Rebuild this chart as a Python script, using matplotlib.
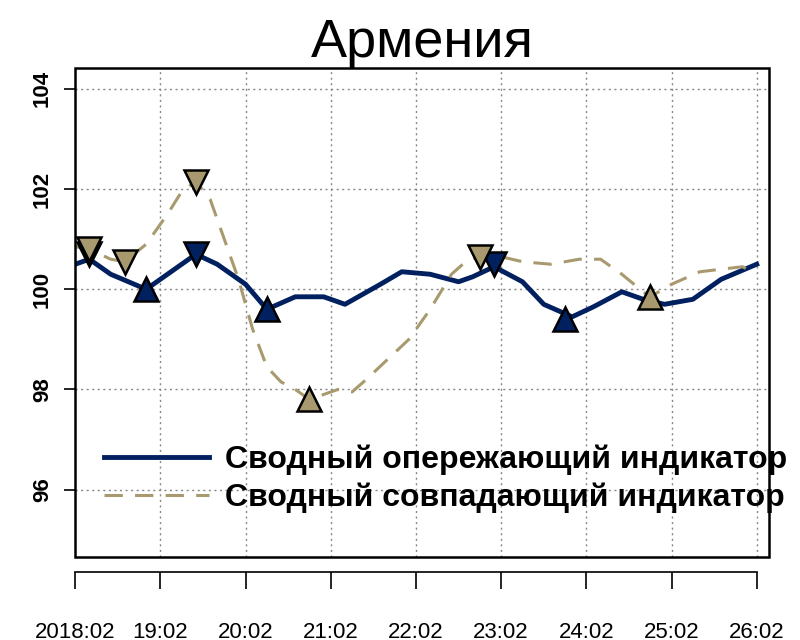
import matplotlib.pyplot as plt
from matplotlib.patches import Rectangle

# months since 2018:02
lead_m = [0, 2, 5, 10, 13, 17, 20, 24, 27, 31, 35, 38, 43, 46, 50, 54, 56, 59, 63, 66, 70, 73, 77, 80, 83, 87, 91, 96]
lead_v = [100.5, 100.6, 100.3, 100.0, 100.3, 100.7, 100.5, 100.1, 99.6, 99.85, 99.85, 99.7, 100.1, 100.35,
          100.3, 100.15, 100.25, 100.45, 100.15, 99.7, 99.45, 99.65, 99.95, 99.8, 99.7, 99.8, 100.2, 100.5]
lead_up_m = [10, 27, 69]
lead_up_v = [100.0, 99.6, 99.4]
lead_dn_m = [2, 17, 59]
lead_dn_v = [100.7, 100.7, 100.5]

coin_m = [0, 2, 5, 7, 10, 13, 15, 17, 19, 21, 23, 25, 27, 29, 31, 33, 35, 37, 39, 41, 44, 47, 50, 53,
          55, 57, 60, 63, 67, 71, 74, 77, 80, 81, 84, 88, 91, 94, 96]
coin_v = [100.85, 100.8, 100.6, 100.55, 100.9, 101.5, 101.95, 102.15, 101.8, 101.0, 100.2, 99.2, 98.45,
          98.15, 98.0, 97.8, 97.9, 98.0, 97.95, 98.2, 98.6, 99.0, 99.6, 100.3, 100.55, 100.65, 100.65,
          100.55, 100.5, 100.6, 100.6, 100.3, 99.95, 99.85, 100.1, 100.35, 100.4, 100.45, 100.3]
coin_up_m = [33, 81]
coin_up_v = [97.8, 99.85]
coin_dn_m = [2, 7, 17, 57]
coin_dn_v = [100.8, 100.55, 102.15, 100.65]

tick_m = [0, 12, 24, 36, 48, 60, 72, 84, 96]
tick_lab = ["2018:02", "19:02", "20:02", "21:02", "22:02", "23:02", "24:02", "25:02", "26:02"]

NAVY = "#002060"
TAN = "#A89A6E"

plt.rcParams["font.family"] = ["Liberation Sans", "DejaVu Sans"]
fig = plt.figure(figsize=(8, 6.4), dpi=100)
ax = fig.add_axes([0.094, 0.13, 0.867, 0.764])

ax.plot(lead_m, lead_v, color=NAVY, lw=3.5, label="Сводный опережающий индикатор", zorder=3)
ax.plot(coin_m, coin_v, color=TAN, lw=2.2, ls=(0, (6, 4)), label="Сводный совпадающий индикатор", zorder=3)

mk = dict(ms=17, mec="black", mew=1.8, ls="none", zorder=4)
ax.plot(lead_dn_m, lead_dn_v, marker="v", mfc=NAVY, **mk)
ax.plot(lead_up_m, lead_up_v, marker="^", mfc=NAVY, **mk)
ax.plot(coin_dn_m, coin_dn_v, marker="v", mfc=TAN, **mk)
ax.plot(coin_up_m, coin_up_v, marker="^", mfc=TAN, **mk)

ax.set_xlim(0, 97.7)
ax.set_ylim(94.66, 104.42)
ax.set_yticks([96, 98, 100, 102, 104])
ax.set_xticks(tick_m)
ax.set_xticklabels(tick_lab)
ax.tick_params(axis="x", length=12, width=1.2, pad=24, labelsize=16)
ax.tick_params(axis="y", length=8, width=1.2, pad=8, labelsize=16)
for t in ax.get_xticklabels():
    t.set_fontweight("bold")
for t in ax.get_yticklabels():
    t.set_rotation(90)
    t.set_va("center")
    t.set_fontweight("bold")
ax.grid(True, color="#888888", ls=(0, (1.5, 2.5)), lw=1)

for s in ["top", "right", "left"]:
    ax.spines[s].set_visible(False)
ax.spines["bottom"].set_position(("outward", 11))
ax.spines["bottom"].set_bounds(0, 96)
ax.spines["bottom"].set_linewidth(1.2)
ax.add_patch(Rectangle((0, 0), 1, 1, transform=ax.transAxes, fill=False,
                       lw=1.8, ec="black", clip_on=False, zorder=5))

ax.set_title("Армения", fontsize=39, pad=6)
ax.legend(loc="lower left", bbox_to_anchor=(0.0, 0.03), frameon=False,
          prop={"size": 23, "weight": "bold"}, handlelength=3.3, handletextpad=0.5,
          labelspacing=0.25)

fig.savefig("out.png", dpi=100)
